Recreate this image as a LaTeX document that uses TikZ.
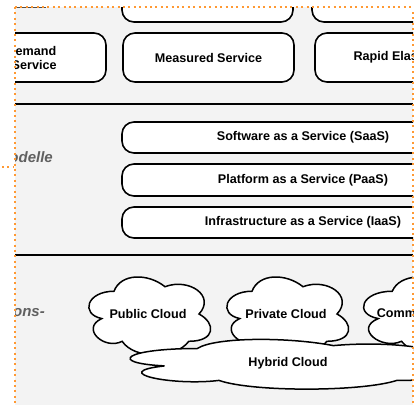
\documentclass[tikz,border=0pt]{standalone}
\usepackage{fontspec}
\setmainfont{Liberation Sans}
\definecolor{bggray}{RGB}{243,243,243}
\definecolor{orng}{RGB}{255,153,51}
\definecolor{lblgray}{RGB}{96,96,96}
\newcommand{\cloudoutline}[4]{%
  \begin{scope}[shift={(#1,#2)}, x=#3pt, y=-#4pt]
    \draw[cloudline] (0.25,0.25) .. controls (0.05,0.25) and (0,0.5) .. (0.16,0.55)
      .. controls (0,0.66) and (0.18,0.9) .. (0.31,0.8)
      .. controls (0.4,1) and (0.7,1) .. (0.8,0.8)
      .. controls (1,0.8) and (1,0.6) .. (0.875,0.5)
      .. controls (1,0.3) and (0.8,0.1) .. (0.625,0.2)
      .. controls (0.5,0.05) and (0.3,0.05) .. (0.25,0.25) -- cycle;
  \end{scope}}
\begin{document}
\begin{tikzpicture}[x=1pt,y=-1pt,
  txt/.style={font=\fontsize{12.6}{14}\selectfont\bfseries, text=black, align=center},
  rbox/.style={txt, draw=black, line width=1.6pt, fill=white, rounded corners=12pt, minimum width=171pt, minimum height=49pt, inner sep=0pt},
  lbox/.style={txt, draw=black, line width=1.6pt, fill=white, rounded corners=12pt, minimum width=362pt, inner sep=0pt},
  cloudline/.style={draw=black, line width=1.5pt, fill=white},
  sep/.style={draw=black, line width=1.3pt},
  lbl/.style={font=\fontsize{15}{17}\selectfont\bfseries\itshape, text=lblgray, inner sep=0pt},
  frame/.style={draw=orng, line width=2pt, dash pattern=on 2pt off 3.4pt}]
\useasboundingbox (0,0) rectangle (420,405);
\begin{scope}
  \clip (15,7) rectangle (413,405);
  \fill[bggray] (15,7) rectangle (413,405);
  % separators
  \coordinate (s1a) at (15,104); \coordinate (s1b) at (413,104);
  \coordinate (s2a) at (15,255); \coordinate (s2b) at (413,255);
  \draw[sep] (s1a) -- (s1b);
  \draw[sep] (s2a) -- (s2b);
  % top row (mostly cut off)
  \node[rbox] (top1) at (207.5,-2.5) {};
  \node[rbox] (top2) at (397.5,-2.5) {};
  % second row
  \node[rbox] (ondemand) at (20.5,57.5) {On-Demand\\Self-Service};
  \node[rbox] (measured) at (208.5,57.5) {Measured Service};
  \node[rbox] (rapid) at (400.5,57.5) {Rapid Elasticity};
  % service models
  \node[lbl, anchor=base east] (lblsvc) at (53,162) {Servicemodelle};
  \node[lbox, minimum height=31pt] (saas) at (303,137.5) {Software as a Service (SaaS)};
  \node[lbox, minimum height=32pt] (paas) at (303,180) {Platform as a Service (PaaS)};
  \node[lbox, minimum height=31pt] (iaas) at (303,222.5) {Infrastructure as a Service (IaaS)};
  % deployment models
  \node[lbl, anchor=base east] (lbldep) at (45,316) {Organisations-};
  \cloudoutline{80}{268.5}{136}{91}
  \node[txt] (public) at (148,314) {Public Cloud};
  \cloudoutline{218}{268.5}{136}{91}
  \node[txt] (private) at (286,314) {Private Cloud};
  \cloudoutline{353.5}{268.5}{155}{91}
  \node[txt] (community) at (431,314) {Community Cloud};
  \cloudoutline{106.5}{334}{363}{58}
  \node[txt] (hybrid) at (288,363) {Hybrid Cloud};
\end{scope}
% frame
\coordinate (fa) at (15,7); \coordinate (fb) at (413,7);
\coordinate (fc) at (15,405); \coordinate (fd) at (413,12); \coordinate (fe) at (413,405);
\coordinate (ga) at (2,167); \coordinate (gb) at (13,167);
\draw[black!70, line width=1pt] (15,7) -- (46,7);
\draw[frame] (fa) -- (fb);
\draw[frame] (fa) -- (fc);
\draw[frame] (fd) -- (fe);
\draw[frame] (ga) -- (gb);
\end{tikzpicture}
\end{document}
